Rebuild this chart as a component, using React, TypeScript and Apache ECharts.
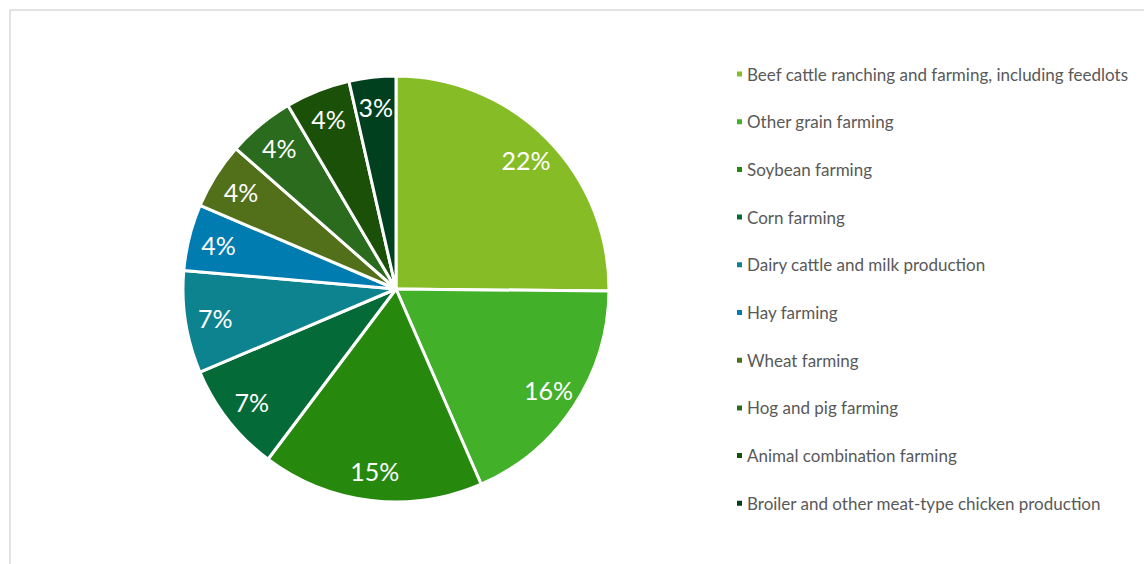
import React, { useEffect, useRef } from "react";
import * as echarts from "echarts";

const categories = [
  "Beef cattle ranching and farming, including feedlots",
  "Other grain farming",
  "Soybean farming",
  "Corn farming",
  "Dairy cattle and milk production",
  "Hay farming",
  "Wheat farming",
  "Hog and pig farming",
  "Animal combination farming",
  "Broiler and other meat-type chicken production",
];
// percent shares (slice sizes; labels are the rounded values)
const shares = [22.0, 16.0, 14.7, 7.3, 6.8, 4.4, 4.4, 4.45, 4.3, 3.1];
const colors = [
  "#86bc25",
  "#43b02a",
  "#26890d",
  "#046a38",
  "#0d8390",
  "#007cb0",
  "#526f19",
  "#2a6b1e",
  "#1b5008",
  "#00401f",
];

export default function App() {
  const ref = useRef<HTMLDivElement>(null);
  useEffect(() => {
    document.body.style.margin = "0";
    const chart = echarts.init(ref.current!, undefined, { renderer: "svg" });
    const data = categories.map((name, i) => ({
      name,
      value: shares[i],
      itemStyle: { color: colors[i] },
    }));
    chart.setOption({
      animation: false,
      graphic: [
        {
          type: "rect",
          shape: { x: 10, y: 10, width: 1300, height: 700 },
          style: { fill: "none", stroke: "#d9d9d9", lineWidth: 1.5 },
          silent: true,
        },
      ],
      legend: {
        orient: "vertical",
        left: 730,
        top: 59,
        itemWidth: 7,
        itemHeight: 7,
        itemGap: 27.7,
        icon: "rect",
        data: categories,
        textStyle: {
          color: "#595959",
          fontSize: 17,
          fontFamily: "Lato",
          lineHeight: 20,
          padding: [0, 0, 0, -1],
        },
        selectedMode: false,
      },
      series: [
        {
          type: "pie",
          center: [396, 289],
          radius: [0, 213],
          startAngle: 90,
          clockwise: true,
          silent: true,
          label: { show: false },
          labelLine: { show: false },
          itemStyle: { borderColor: "#ffffff", borderWidth: 3 },
          data,
        },
        {
          type: "pie",
          center: [396, 289],
          radius: [170, 190],
          startAngle: 90,
          clockwise: true,
          silent: true,
          itemStyle: { color: "rgba(0,0,0,0)" },
          label: {
            show: true,
            position: "inside",
            formatter: (p: any) => `${Math.round(p.value)}%`,
            color: "#ffffff",
            fontSize: 25,
            fontFamily: "Lato",
          },
          labelLine: { show: false },
          data: categories.map((name, i) => ({
            name,
            value: shares[i],
            itemStyle: { color: "rgba(0,0,0,0)" },
          })),
        },
      ],
    });
    return () => chart.dispose();
  }, []);
  return <div ref={ref} style={{ width: 1144, height: 564 }} />;
}
